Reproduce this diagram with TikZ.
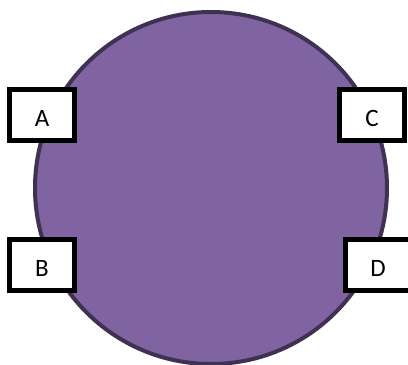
\documentclass[tikz,border=0pt]{standalone}
\usepackage{fontspec}
\setmainfont{Carlito}
\usepackage{tikz}
\usetikzlibrary{positioning, shapes.geometric}
\usepackage{xcolor}
\definecolor{discpurple}{RGB}{128,100,162}
\definecolor{discedge}{RGB}{63,49,81}
\tikzset{
    disc/.style={circle, draw=discedge, line width=4pt, fill=discpurple, minimum size=352pt, inner sep=0pt},
    portbox/.style={draw=black, line width=4.5pt, fill=white, minimum width=65pt, minimum height=51pt, inner sep=0pt, text height=22pt, text depth=0pt, font=\fontsize{25}{25}\selectfont}
}

\begin{document}
\begin{tikzpicture}[x=1pt,y=-1pt]
            \useasboundingbox (0,0) rectangle (408,365);
            \node[disc] (disc) at (211,188) {};
            \node[portbox] (a) at (42,115) {A};
            \node[portbox] (b) at (42,265) {B};
            \node[portbox] (c) at (372,115) {C};
            \node[portbox] (d) at (378,265) {D};
        \end{tikzpicture}
\end{document}
